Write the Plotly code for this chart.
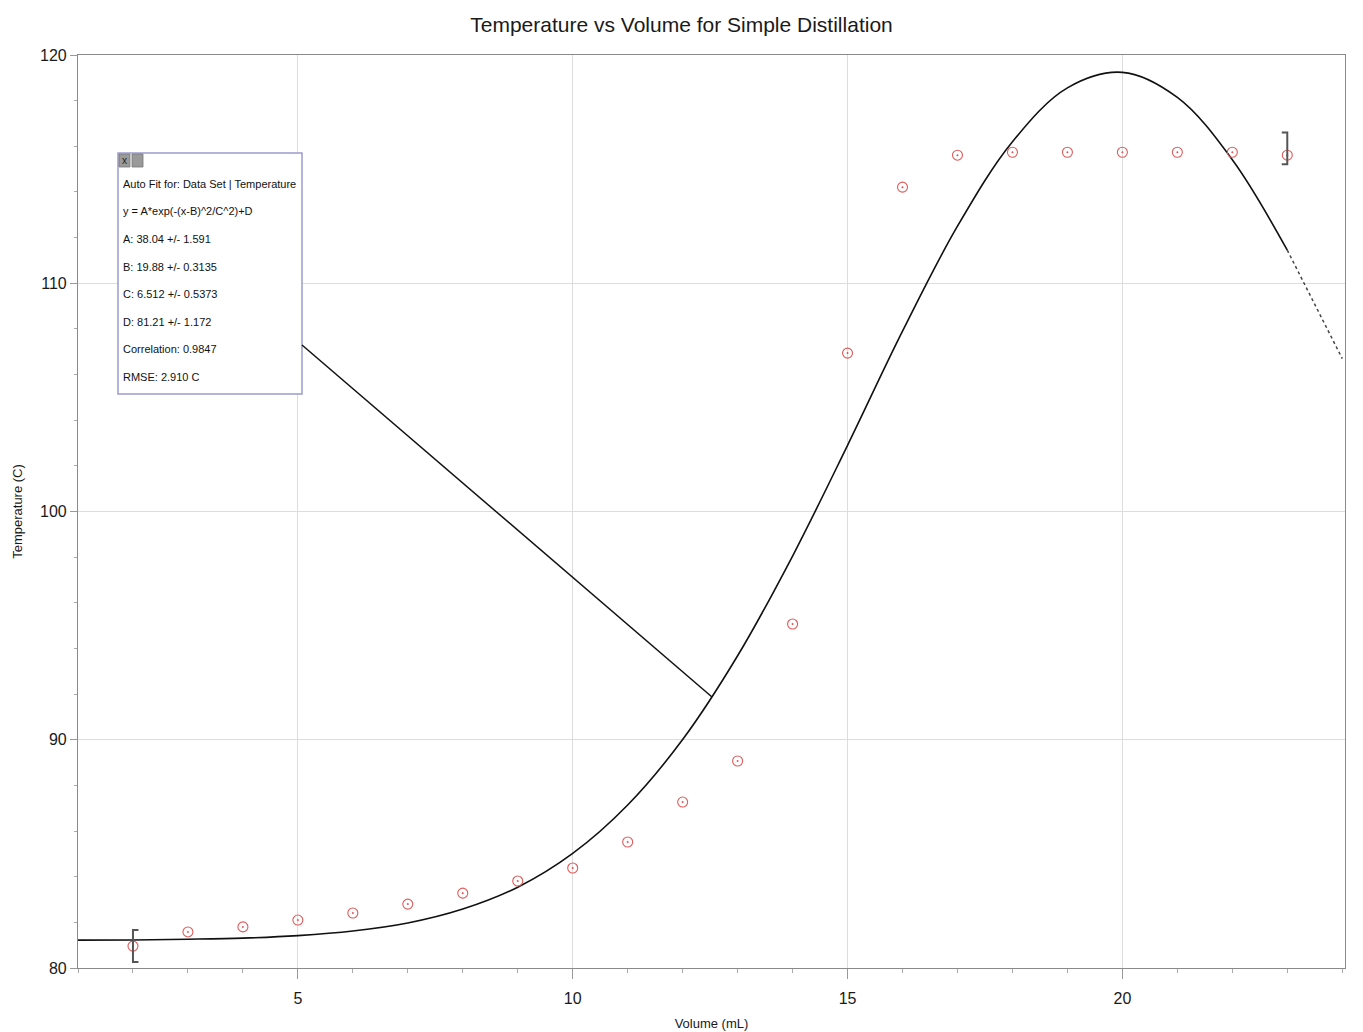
import plotly.graph_objects as go

# ---- data ----
volume = [2, 3, 4, 5, 6, 7, 8, 9, 10, 11, 12, 13, 14, 15, 16, 17, 18, 19, 20, 21, 22, 23]
temperature = [80.96, 81.58, 81.80, 82.10, 82.41, 82.80, 83.28, 83.81, 84.38, 85.52, 87.27,
               89.07, 95.07, 106.94, 114.21, 115.61, 115.74, 115.74, 115.74, 115.74, 115.74, 115.61]

fit_x = [1, 2, 3, 4, 5, 6, 7, 8, 9, 10, 11, 12, 13, 14, 15, 16, 17, 18, 19, 20, 21, 22, 23, 24]
fit_y = [81.22, 81.23, 81.26, 81.31, 81.42, 81.62, 81.97, 82.58, 83.54, 85.02, 87.14, 90.01,
         93.68, 98.05, 102.9, 107.9, 112.5, 116.2, 118.56, 119.24, 118.14, 115.41, 111.45, 106.7]

fit_lines = ["Auto Fit for: Data Set | Temperature",
             "y = A*exp(-(x-B)^2/C^2)+D",
             "A: 38.04 +/- 1.591",
             "B: 19.88 +/- 0.3135",
             "C: 6.512 +/- 0.5373",
             "D: 81.21 +/- 1.172",
             "Correlation: 0.9847",
             "RMSE: 2.910 C"]

FONT = "Liberation Sans, Arial, sans-serif"

OFF = 8  # default page body margin
W, H = 1363, 1032
L, R, T, B = 78, 1345, 55, 968   # target plot-area edges in page pixels


def px(x):
    return (x - L) / (R - L)


def py(y):
    return (B - y) / (B - T)


fig = go.Figure()

# fit curve (solid within fit range, dotted beyond)
split = fit_x.index(volume[-1]) + 1
fig.add_trace(go.Scatter(x=fit_x[:split], y=fit_y[:split], mode="lines",
                         line=dict(color="#111111", width=1.6, shape="spline"),
                         showlegend=False, hoverinfo="skip"))
fig.add_trace(go.Scatter(x=fit_x[split - 1:], y=fit_y[split - 1:], mode="lines",
                         line=dict(color="#444444", width=1.5, dash="dot", shape="spline"),
                         showlegend=False, hoverinfo="skip"))

# data points
fig.add_trace(go.Scatter(x=volume, y=temperature, mode="markers",
                         marker=dict(symbol="circle-open-dot", size=10, color="#e05a5a",
                                     line=dict(width=1.1, color="#e05a5a")),
                         showlegend=False))

shapes = []
# range brackets at the first and last points
bw, bh = 0.1, 0.7
x0, y0 = volume[0], temperature[0]
shapes.append(dict(type="path", xref="x", yref="y",
                   path=f"M {x0+bw},{y0+bh} L {x0},{y0+bh} L {x0},{y0-bh} L {x0+bw},{y0-bh}",
                   line=dict(color="#555555", width=2)))
x1, y1 = volume[-1], temperature[-1] + 0.3
shapes.append(dict(type="path", xref="x", yref="y",
                   path=f"M {x1-bw},{y1+bh} L {x1},{y1+bh} L {x1},{y1-bh} L {x1-bw},{y1-bh}",
                   line=dict(color="#555555", width=2)))

# fit info box
bx0, by0, bx1, by1 = 118, 153, 302, 394
shapes.append(dict(type="rect", xref="paper", yref="paper",
                   x0=px(bx0), x1=px(bx1), y0=py(by1), y1=py(by0),
                   line=dict(color="#9c9ccf", width=1.5), fillcolor="white", layer="above"))
# title bar icons
for ix in (bx0 + 1, bx0 + 14):
    shapes.append(dict(type="rect", xref="paper", yref="paper",
                       x0=px(ix), x1=px(ix + 11), y0=py(167), y1=py(154),
                       line=dict(color="#777777", width=0.8), fillcolor="#9a9a9a", layer="above"))
# leader line from box to curve
shapes.append(dict(type="line", xref="paper", yref="paper",
                   x0=px(bx1), y0=py(345), x1=px(712), y1=py(697),
                   line=dict(color="#111111", width=1.5)))

annotations = []
annotations.append(dict(x=px(bx0 + 6.5), y=py(160.5), xref="paper", yref="paper",
                        text="x", showarrow=False, font=dict(family=FONT, size=10, color="#222"),
                        xanchor="center", yanchor="middle"))
for i, line in enumerate(fit_lines):
    annotations.append(dict(x=px(bx0 + 3), y=py(184 + i * 27.5), xref="paper", yref="paper",
                            text=line, showarrow=False, xanchor="left", yanchor="middle",
                            font=dict(family=FONT, size=11, color="#111111")))

fw, fh = W - OFF, H - OFF
fig.update_layout(
    width=fw, height=fh,
    margin=dict(l=L - OFF, r=W - R, t=T - OFF, b=H - B, autoexpand=False),
    paper_bgcolor="white", plot_bgcolor="white",
    title=dict(text="Temperature vs Volume for Simple Distillation", x=0.5 - OFF / 2 / fw,
               xanchor="center", y=1 - (25 - OFF) / fh, yanchor="middle", yref="container",
               font=dict(family=FONT, size=21, color="#1a1a1a")),
    shapes=shapes, annotations=annotations,
    font=dict(family=FONT, color="#1a1a1a"),
)

fig.update_xaxes(range=[1, 24.05], tickvals=[5, 10, 15, 20], ticks="outside", ticklen=10,
                 tickcolor="#999", showgrid=True, gridcolor="#dddddd", gridwidth=1,
                 showline=True, linecolor="#8a8a8a", linewidth=1.2, mirror=True, zeroline=False,
                 minor=dict(dtick=1, ticks="outside", ticklen=4, tickcolor="#aaa", showgrid=False),
                 ticklabelstandoff=6,
                 tickfont=dict(family=FONT, size=16, color="#1a1a1a"),
                 title=dict(text="Volume (mL)", font=dict(family=FONT, size=13, color="#1a1a1a"),
                            standoff=12))
fig.update_yaxes(range=[80, 120], tickvals=[80, 90, 100, 110, 120], ticks="outside", ticklen=7,
                 tickcolor="#999", showgrid=True, gridcolor="#dddddd", gridwidth=1,
                 showline=True, linecolor="#8a8a8a", linewidth=1.2, mirror=True, zeroline=False,
                 minor=dict(dtick=2, ticks="outside", ticklen=3, tickcolor="#aaa", showgrid=False),
                 tickfont=dict(family=FONT, size=16, color="#1a1a1a"),
                 title=dict(text="Temperature (C)", font=dict(family=FONT, size=13, color="#1a1a1a"),
                            standoff=14))

fig.write_html("out.html")
